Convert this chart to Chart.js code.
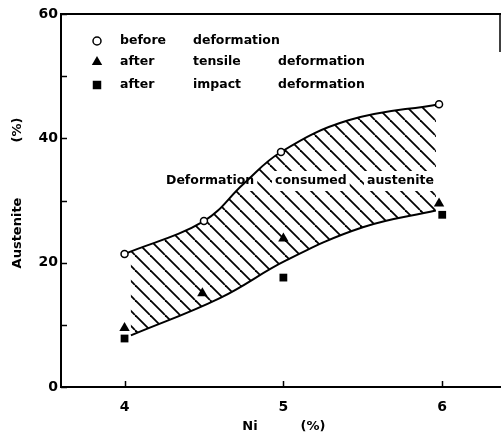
<!DOCTYPE html>
<html>
<head>
<meta charset="utf-8">
<script src="https://cdn.jsdelivr.net/npm/chart.js@4.4.1/dist/chart.umd.min.js"></script>
<style>
    html, body { margin: 0; padding: 0; background: #fff; }
    #wrap { width: 502px; height: 434px; position: relative; }
</style>
</head>
<body>
<div id="wrap"><canvas id="grafico"></canvas></div>
<script>
// Ni content (%) and retained austenite (%)
const niBefore = [4.0, 4.5, 4.985, 5.98];
const austBefore = [21.4, 26.7, 37.8, 45.5];
const niTensile = [4.0, 4.49, 5.0, 5.98];
const austTensile = [9.5, 15.1, 23.9, 29.5];
const niImpact = [4.0, 5.0, 6.0];
const austImpact = [7.8, 17.6, 27.7];

// hand drawn limits of the hatched band
const niUpper = [4.0, 4.5, 4.75, 4.985, 5.41, 5.98];
const austUpper = [21.4, 26.7, 32.7, 37.8, 42.9, 45.5];
const niLower = [4.04, 4.6, 5.02, 5.5, 5.96];
const austLower = [8.3, 14.3, 20.4, 25.7, 28.4];

// ticks and texts
const xTicks = [4, 5, 6];
const yTicks = [0, 10, 20, 30, 40, 50, 60];
const yLabels = ['0', '', '20', '', '40', '', '60'];
const legendLabels = ['before deformation', 'after tensile deformation', 'after impact deformation'];
const bandLabel = 'Deformation consumed austenite';
const xTitle = 'Ni (%)';
const yTitle = 'Austenite (%)';

const FONT = '"DejaVu Sans", sans-serif';

function pares(xs, ys) {
    return xs.map((x, i) => ({ x: x, y: ys[i] }));
}

document.addEventListener('DOMContentLoaded', function() {
    const ctx = document.getElementById('grafico').getContext('2d');

    // diagonal hatching for the band
    const tile = document.createElement('canvas');
    tile.width = 15;
    tile.height = 15;
    const t = tile.getContext('2d');
    t.strokeStyle = '#000';
    t.lineWidth = 1.8;
    [-15, 0, 15].forEach(k => {
        t.beginPath();
        t.moveTo(k, 0);
        t.lineTo(k + 15, 15);
        t.stroke();
    });
    const rayado = ctx.createPattern(tile, 'repeat');

    const simbolos = [
        { pointStyle: 'circle', radius: 4, borderWidth: 1.5, fill: '#fff' },
        { pointStyle: 'triangle', radius: 6, borderWidth: 0, fill: '#000' },
        { pointStyle: 'rect', radius: 6, borderWidth: 0, fill: '#000' }
    ];

    const decor = {
        id: 'decor',
        beforeDatasetsDraw(chart) {
            // white box behind the band label, then the label
            const c = chart.ctx;
            const cols = [166, 275, 367];
            c.save();
            c.font = 'bold 12.5px ' + FONT;
            c.textBaseline = 'middle';
            bandLabel.split(' ').forEach((w, i) => {
                const ancho = c.measureText(w).width;
                c.fillStyle = '#fff';
                c.fillRect(cols[i] - 3, 181 - 10, ancho + 6, 20);
                c.fillStyle = '#000';
                c.fillText(w, cols[i], 181);
            });
            c.restore();
        },
        afterDraw(chart) {
            const c = chart.ctx;
            const a = chart.chartArea;
            const sx = chart.scales.x;
            const sy = chart.scales.y;
            c.save();
            c.strokeStyle = '#000';
            c.lineWidth = 2;
            c.beginPath();
            c.moveTo(a.right, a.top);
            c.lineTo(a.left, a.top);
            c.lineTo(a.left, a.bottom);
            c.lineTo(a.right, a.bottom);
            c.stroke();
            // right edge of the frame is only visible near the top
            c.lineWidth = 1.5;
            c.beginPath();
            c.moveTo(a.right - 1, a.top);
            c.lineTo(a.right - 1, a.top + 38);
            c.stroke();

            // inward ticks
            xTicks.forEach(v => {
                const x = Math.round(sx.getPixelForValue(v)) + 0.5;
                c.beginPath();
                c.moveTo(x, a.bottom);
                c.lineTo(x, a.bottom - 6);
                c.stroke();
            });
            yTicks.forEach(v => {
                const y = Math.round(sy.getPixelForValue(v)) + 0.5;
                c.beginPath();
                c.moveTo(a.left, y);
                c.lineTo(a.left + 6, y);
                c.stroke();
            });

            // legend
            const colsLeyenda = [120, 193, 278];
            const filas = [41, 62, 85];
            c.font = 'bold 12.5px ' + FONT;
            c.textBaseline = 'middle';
            c.textAlign = 'left';
            legendLabels.forEach((lab, i) => {
                const s = simbolos[i];
                c.fillStyle = s.fill;
                c.strokeStyle = '#000';
                c.lineWidth = s.borderWidth;
                Chart.helpers.drawPoint(c, { pointStyle: s.pointStyle, rotation: 0, radius: s.radius, borderWidth: s.borderWidth }, 97, filas[i]);
                c.fillStyle = '#000';
                lab.split(' ').forEach((w, j) => c.fillText(w, colsLeyenda[j], filas[i]));
            });

            // axis titles
            c.font = 'bold 13px ' + FONT;
            c.textAlign = 'center';
            const xPos = [250, 313];
            xTitle.split(' ').forEach((w, i) => c.fillText(w, xPos[i], 427));
            const yPos = [233, 130];
            yTitle.split(' ').forEach((w, i) => {
                c.save();
                c.translate(18, yPos[i]);
                c.rotate(-Math.PI / 2);
                c.fillText(w, 0, 0);
                c.restore();
            });
            c.restore();
        }
    };

    new Chart(ctx, {
        type: 'scatter',
        data: {
            datasets: [
                {
                    label: legendLabels[0],
                    data: pares(niBefore, austBefore),
                    pointStyle: 'circle',
                    pointRadius: 3.5,
                    pointBackgroundColor: '#fff',
                    pointBorderColor: '#000',
                    pointBorderWidth: 1.5
                },
                {
                    label: legendLabels[1],
                    data: pares(niTensile, austTensile),
                    pointStyle: 'triangle',
                    pointRadius: 6,
                    pointBackgroundColor: '#000',
                    pointBorderColor: '#000',
                    pointBorderWidth: 0
                },
                {
                    label: legendLabels[2],
                    data: pares(niImpact, austImpact),
                    pointStyle: 'rect',
                    pointRadius: 5.5,
                    pointBackgroundColor: '#000',
                    pointBorderColor: '#000',
                    pointBorderWidth: 0
                },
                {
                    label: 'upper',
                    data: pares(niUpper, austUpper),
                    showLine: true,
                    pointRadius: 0,
                    borderColor: '#000',
                    borderWidth: 2,
                    tension: 0.4,
                    backgroundColor: rayado,
                    fill: '+1'
                },
                {
                    label: 'lower',
                    data: pares(niLower, austLower),
                    showLine: true,
                    pointRadius: 0,
                    borderColor: '#000',
                    borderWidth: 2,
                    tension: 0.4,
                    fill: false
                }
            ]
        },
        options: {
            responsive: true,
            maintainAspectRatio: false,
            animation: false,
            events: [],
            layout: {
                autoPadding: false,
                padding: { top: 14, right: 1, left: 0, bottom: 0 }
            },
            scales: {
                x: {
                    type: 'linear',
                    min: 3.6,
                    max: 6.37,
                    afterBuildTicks: scale => { scale.ticks = xTicks.map(v => ({ value: v })); },
                    afterFit: scale => {
                        scale.height = 47;
                        scale.paddingLeft = 0;
                        scale.paddingRight = 0;
                    },
                    grid: { display: false, drawTicks: false },
                    border: { display: false },
                    ticks: {
                        color: '#000',
                        padding: 12,
                        maxRotation: 0,
                        font: { family: FONT, size: 14, weight: 'bold' }
                    }
                },
                y: {
                    min: 0,
                    max: 60,
                    afterBuildTicks: scale => { scale.ticks = yTicks.map(v => ({ value: v })); },
                    afterFit: scale => { scale.width = 61; },
                    grid: { display: false, drawTicks: false },
                    border: { display: false },
                    ticks: {
                        color: '#000',
                        padding: 3,
                        font: { family: FONT, size: 14, weight: 'bold' },
                        callback: v => yLabels[yTicks.indexOf(v)]
                    }
                }
            },
            plugins: {
                legend: { display: false },
                tooltip: { enabled: false },
                filler: { drawTime: 'beforeDatasetsDraw' }
            }
        },
        plugins: [decor]
    });
});
</script>
</body>
</html>
